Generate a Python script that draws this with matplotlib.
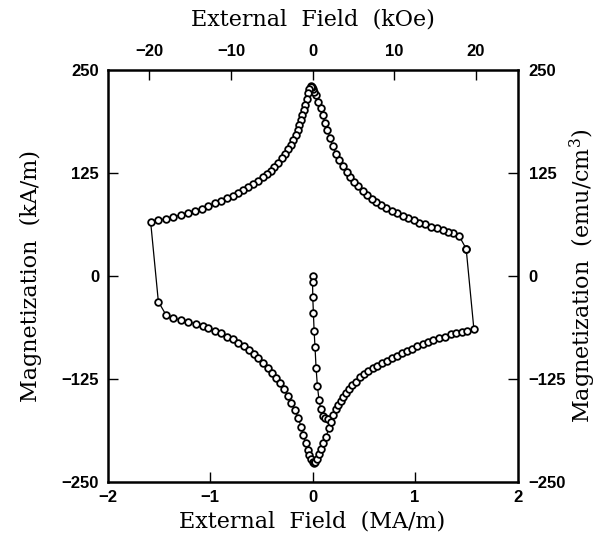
import numpy as np
import matplotlib
matplotlib.use("Agg")
import matplotlib.pyplot as plt

plt.rcParams['mathtext.fontset'] = 'dejavuserif'

# initial (virgin) curve, field in MA/m, magnetization in kA/m
virgin_x = [0.0, 0.0, 0.002, 0.008, 0.015, 0.024, 0.034, 0.047, 0.063, 0.080, 0.100, 0.122, 0.154]
virgin_y = [0.0, -6.9, -25.9, -44.5, -66.7, -86.6, -111.2, -133.5, -150.5, -161.8, -169.5, -172.7, -174.0]

# upper right branch, from the jump back to the peak
ur_x = [1.498, 1.430, 1.374, 1.325, 1.270, 1.211, 1.153, 1.098, 1.042, 0.990, 0.935, 0.880,
        0.828, 0.772, 0.717, 0.665, 0.620, 0.577, 0.528, 0.489, 0.447, 0.405, 0.366, 0.333,
        0.294, 0.262, 0.229, 0.197, 0.171, 0.145, 0.122, 0.100, 0.080, 0.057, 0.034, 0.018,
        0.008, -0.004]
ur_y = [33.0, 48.5, 52.6, 53.8, 55.8, 57.8, 59.9, 62.7, 64.7, 68.0, 70.0, 72.8,
        76.0, 79.3, 82.9, 86.2, 89.4, 93.0, 98.3, 103.5, 109.2, 114.5, 120.5, 126.6,
        133.5, 140.8, 148.0, 157.8, 167.1, 177.2, 185.3, 195.4, 203.5, 211.5, 219.7, 223.5,
        226.5, 229.5]

# upper left branch, from the peak down to the jump
ul_x = [-0.012, -0.018, -0.031, -0.044, -0.057, -0.070, -0.083, -0.100, -0.112, -0.129,
        -0.144, -0.164, -0.187, -0.210, -0.236, -0.268, -0.301, -0.334, -0.373, -0.408,
        -0.447, -0.486, -0.529, -0.578, -0.626, -0.675, -0.724, -0.779, -0.837, -0.896,
        -0.951, -1.016, -1.081, -1.146, -1.212, -1.283, -1.358, -1.429, -1.504, -1.579]
ul_y = [230.6, 229.7, 226.6, 221.7, 214.4, 207.5, 201.5, 195.4, 189.3, 183.3,
        177.2, 171.1, 165.0, 159.0, 153.8, 148.1, 142.8, 137.5, 132.6, 127.8,
        123.8, 119.8, 115.7, 111.7, 108.0, 104.4, 101.1, 97.5, 94.3, 91.0,
        88.2, 85.0, 81.7, 79.2, 76.0, 74.0, 72.0, 69.6, 67.6, 65.2]

# lower left branch, from the jump to the valley
ll_x = [-1.504, -1.429, -1.358, -1.283, -1.212, -1.140, -1.071, -1.016, -0.951, -0.896,
        -0.837, -0.779, -0.724, -0.668, -0.617, -0.571, -0.529, -0.480, -0.437, -0.398,
        -0.359, -0.317, -0.278, -0.242, -0.210, -0.171, -0.139, -0.112, -0.090, -0.066,
        -0.047, -0.031, -0.018, 0.002, 0.012, 0.022]
ll_y = [-31.2, -47.3, -51.4, -53.4, -55.4, -58.3, -60.7, -63.5, -66.7, -69.6,
        -73.6, -76.8, -80.9, -85.0, -89.8, -94.7, -99.9, -106.0, -112.0, -118.1,
        -124.2, -130.2, -137.5, -145.6, -153.8, -162.6, -172.7, -182.9, -193.0, -203.0,
        -211.2, -217.2, -222.5, -225.3, -227.3, -226.0]

# lower right branch, from the valley up to the jump
lr_x = [0.041, 0.063, 0.083, 0.106, 0.132, 0.158, 0.177, 0.203, 0.229, 0.252, 0.275,
        0.301, 0.327, 0.356, 0.389, 0.424, 0.463, 0.502, 0.545, 0.587, 0.632, 0.675,
        0.724, 0.772, 0.821, 0.870, 0.919, 0.968, 1.017, 1.075, 1.130, 1.179, 1.237,
        1.293, 1.348, 1.400, 1.456, 1.504, 1.573]
lr_y = [-222.5, -216.0, -210.4, -203.0, -195.0, -184.9, -176.8, -168.7, -161.8, -156.6, -151.3,
        -146.5, -142.4, -137.5, -132.3, -128.3, -123.0, -118.9, -114.9, -112.0, -108.9, -106.0,
        -102.8, -99.9, -97.1, -93.8, -90.7, -88.2, -85.0, -82.5, -80.1, -77.7, -75.6,
        -73.7, -70.8, -69.5, -67.6, -66.4, -64.0]

loop_x = np.concatenate([ur_x, ul_x, ll_x, lr_x, ur_x[:1]])
loop_y = np.concatenate([ur_y, ul_y, ll_y, lr_y, ur_y[:1]])

fig = plt.figure(figsize=(6.04, 5.38), dpi=100)
ax = fig.add_axes([0.178, 0.104, 0.679, 0.766])

style = dict(color='black', lw=0.9, marker='o', markersize=4.8,
             markerfacecolor='white', markeredgecolor='black', markeredgewidth=1.3)
ax.plot(virgin_x, virgin_y, **style)
ax.plot(loop_x, loop_y, **style)

ax.set_xlim(-2, 2)
ax.set_ylim(-250, 250)
ax.set_xticks([-2, -1, 0, 1, 2])
ax.set_xticklabels(['−2', '−1', '0', '1', '2'])
ax.set_yticks([-250, -125, 0, 125, 250])
ax.set_yticklabels(['−250', '−125', '0', '125', '250'])

label_font = dict(family='DejaVu Serif', fontsize=16)
tick_size = 12

ax.set_xlabel('External  Field  (MA/m)', labelpad=4, **label_font)
ax.set_ylabel('Magnetization  (kA/m)', labelpad=14, **label_font)

for s in ax.spines.values():
    s.set_linewidth(1.8)
ax.tick_params(direction='in', length=7, width=1.0, pad=6)
for lab in ax.get_xticklabels() + ax.get_yticklabels():
    lab.set_fontfamily('Liberation Sans')
    lab.set_fontsize(tick_size)
    lab.set_fontweight('bold')

top = ax.secondary_xaxis('top', functions=(lambda x: x * 4 * np.pi, lambda k: k / (4 * np.pi)))
top.set_xticks([-20, -10, 0, 10, 20])
top.set_xticklabels(['−20', '−10', '0', '10', '20'])
top.set_xlabel('External  Field  (kOe)', labelpad=13, **label_font)
top.tick_params(direction='in', length=7, width=1.0, pad=8)

right = ax.secondary_yaxis('right')
right.set_yticks([-250, -125, 0, 125, 250])
right.set_yticklabels(['−250', '−125', '0', '125', '250'])
right.set_ylabel('Magnetization  (emu/cm$^3$)', labelpad=1, **label_font)
right.tick_params(direction='in', length=7, width=1.0, pad=8)

for a in (top, right):
    a.spines[:].set_visible(False)
    for lab in a.get_xticklabels() + a.get_yticklabels():
        lab.set_fontfamily('Liberation Sans')
        lab.set_fontsize(tick_size)
        lab.set_fontweight('bold')

# hide the corner ticks at the frame edges
for t in ax.yaxis.get_major_ticks()[::4] + ax.xaxis.get_major_ticks()[::4]:
    t.tick1line.set_visible(False)
    t.tick2line.set_visible(False)
for t in right.yaxis.get_major_ticks()[::4]:
    t.tick1line.set_visible(False)
    t.tick2line.set_visible(False)
ax.tick_params(top=False, right=False)

fig.savefig('out.png', dpi=100)
